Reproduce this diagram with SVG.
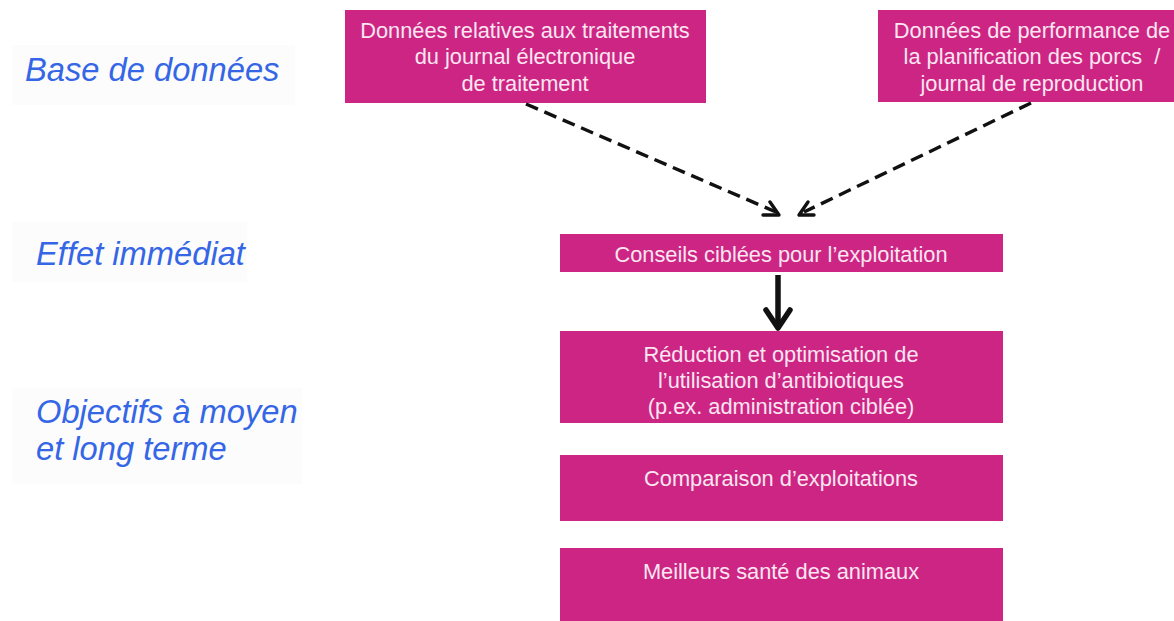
<svg xmlns="http://www.w3.org/2000/svg" width="1174" height="621" viewBox="0 0 1174 621">
<style>
.box{fill:#cd2584;}
.bt{font-family:"Liberation Sans",Arial,sans-serif;font-size:21.8px;fill:#fbe6f1;text-anchor:middle;}
.lbl{font-family:"Liberation Sans",Arial,sans-serif;font-size:32.7px;font-style:italic;fill:#3566e6;}
.dash{fill:none;stroke:#111;stroke-width:3.4;stroke-dasharray:13 7;}
.head{fill:none;stroke:#111;stroke-width:3.4;stroke-linecap:round;stroke-linejoin:round;}
</style>
<rect width="1174" height="621" fill="#ffffff"/>
<g id="labels">
<rect x="12" y="45" width="283" height="60" fill="#fcfcfc"/>
<rect x="12" y="222" width="235" height="60" fill="#fcfcfc"/>
<rect x="12" y="388" width="290" height="96" fill="#fcfcfc"/>
<text class="lbl" x="25" y="81">Base de données</text>
<text class="lbl" x="36" y="265">Effet immédiat</text>
<text class="lbl" x="36" y="423">Objectifs à moyen</text>
<text class="lbl" x="36" y="460">et long terme</text>
</g>
<g id="node-journal">
<rect class="box" x="345" y="10" width="361" height="93"/>
<text class="bt" x="525" y="38">Données relatives aux traitements</text>
<text class="bt" x="525" y="64">du journal électronique</text>
<text class="bt" x="525" y="91">de traitement</text>
</g>
<g id="node-performance">
<rect class="box" x="878" y="10" width="296" height="92"/>
<text class="bt" x="1032" y="38">Données de performance de</text>
<text class="bt" x="1032" y="64">la planification des porcs&#160; /</text>
<text class="bt" x="1032" y="91">journal de reproduction</text>
</g>
<g id="node-conseils">
<rect class="box" x="560" y="234" width="443" height="38"/>
<text class="bt" x="781" y="262">Conseils ciblées pour l’exploitation</text>
</g>
<g id="node-reduction">
<rect class="box" x="560" y="331" width="443" height="92"/>
<text class="bt" x="781" y="362">Réduction et optimisation de</text>
<text class="bt" x="781" y="388">l’utilisation d’antibiotiques</text>
<text class="bt" x="781" y="414">(p.ex. administration ciblée)</text>
</g>
<g id="node-comparaison">
<rect class="box" x="560" y="455" width="443" height="66"/>
<text class="bt" x="781" y="486">Comparaison d’exploitations</text>
</g>
<g id="node-sante">
<rect class="box" x="560" y="548" width="443" height="80"/>
<text class="bt" x="781" y="579">Meilleurs santé des animaux</text>
</g>
<g id="connectors">
<path class="dash" d="M526 104 L776 212"/>
<path class="head" d="M763 215 L779 215 L770 202"/>
<path class="dash" d="M1031 103 L804 212"/>
<path class="head" d="M808 202 L799 215 L814 215"/>
<path d="M778 275 L778 326" stroke="#111" stroke-width="5.5" fill="none"/>
<path d="M766 310 L778 328 L790 310" stroke="#111" stroke-width="5.5" fill="none" stroke-linecap="round" stroke-linejoin="round"/>
</g>
</svg>
